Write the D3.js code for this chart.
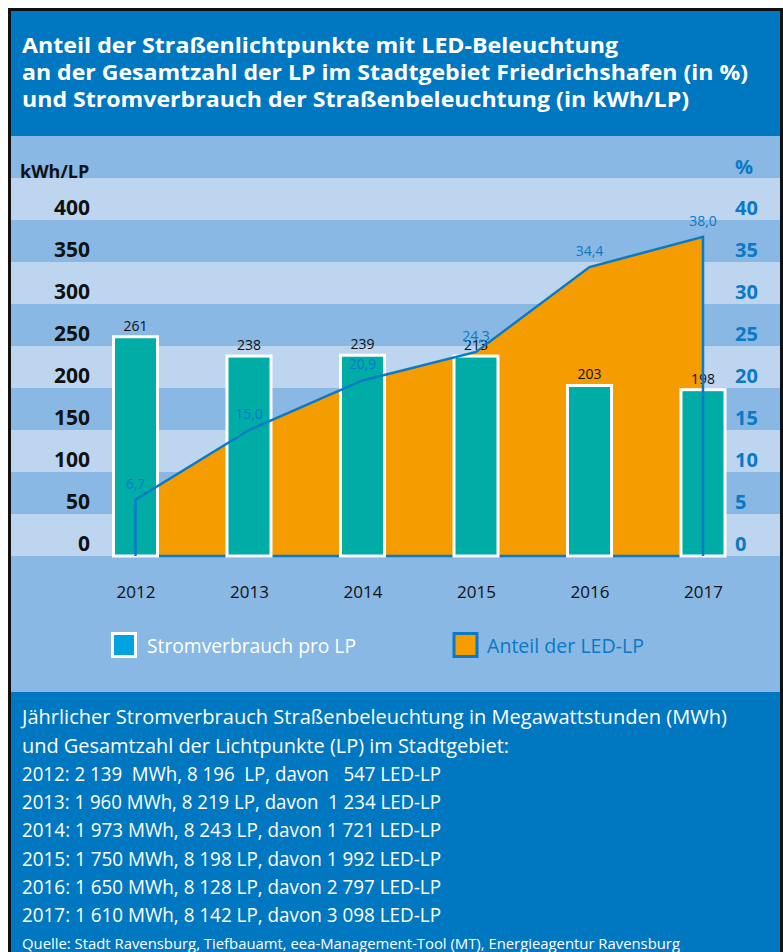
<!DOCTYPE html>
<html>
<head>
<meta charset="utf-8">
<script src="https://cdn.jsdelivr.net/npm/d3@7"></script>
<style>
  body { margin: 0; background: #fff; }
  svg { display: block; }
  text { font-family: "Open Sans", sans-serif; }
</style>
</head>
<body>
<svg id="chart" width="783" height="952"></svg>
<script>
// data
var years = ["2012", "2013", "2014", "2015", "2016", "2017"];
// bar heights as drawn (the 2015 bar is drawn taller than its printed 213)
var kwhBars = [261, 238, 239, 238, 203, 198];
var kwhLabels = ["261", "238", "239", "213", "203", "198"];
var ledShare = [6.7, 15.0, 20.9, 24.3, 34.4, 38.0];
var kwhTicks = [0, 50, 100, 150, 200, 250, 300, 350, 400];
var pctTicks = [0, 5, 10, 15, 20, 25, 30, 35, 40];

var titleLines = [
    "Anteil der Straßenlichtpunkte mit LED-Beleuchtung",
    "an der Gesamtzahl der LP im Stadtgebiet Friedrichshafen (in %)",
    "und Stromverbrauch der Straßenbeleuchtung (in kWh/LP)"
];
var noteLines = [
    "Jährlicher Stromverbrauch Straßenbeleuchtung in Megawattstunden (MWh)",
    "und Gesamtzahl der Lichtpunkte (LP) im Stadtgebiet:"
];
var yearLines = [
    "2012: 2 139  MWh, 8 196  LP, davon   547 LED-LP",
    "2013: 1 960 MWh, 8 219 LP, davon  1 234 LED-LP",
    "2014: 1 973 MWh, 8 243 LP, davon 1 721 LED-LP",
    "2015: 1 750 MWh, 8 198 LP, davon 1 992 LED-LP",
    "2016: 1 650 MWh, 8 128 LP, davon 2 797 LED-LP",
    "2017: 1 610 MWh, 8 142 LP, davon 3 098 LED-LP"
];
var sourceText = "Quelle: Stadt Ravensburg, Tiefbauamt, eea-Management-Tool (MT), Energieagentur Ravensburg";
var legendLabels = ["Stromverbrauch pro LP", "Anteil der LED-LP"];

var darkBlue = "#0077c1",
    paleBlue = "#88b8e3",
    stripe = "#bed5ef",
    teal = "#00aca6",
    orange = "#f49c00",
    lineBlue = "#0a79c6";

var svg = d3.select("svg#chart");

// squeeze a text to a given width (the original font is a condensed one)
function fit(sel, w) {
    sel.attr("textLength", w).attr("lengthAdjust", "spacingAndGlyphs");
}

// frame + panels
svg.append("rect").attr("x", 8).attr("y", 8).attr("width", 775).attr("height", 950).attr("fill", "#111");
svg.append("rect").attr("x", 11).attr("y", 11).attr("width", 769).attr("height", 125).attr("fill", darkBlue);
svg.append("rect").attr("x", 11).attr("y", 136).attr("width", 769).attr("height", 556).attr("fill", paleBlue);
svg.append("rect").attr("x", 11).attr("y", 692).attr("width", 769).attr("height", 260).attr("fill", darkBlue);

// title
var titleW = [596, 726, 667];
svg.append("g").selectAll("text")
    .data(titleLines)
    .join("text")
    .attr("x", 22)
    .attr("y", (d, i) => 53 + i * 27)
    .attr("fill", "#fff")
    .attr("font-size", "21px")
    .attr("font-weight", 700)
    .text(d => d)
    .each(function(d, i) { fit(d3.select(this), titleW[i]); });

// scales
var base = 556;
var x = d3.scalePoint().domain(years).range([135.5, 703]);
var y = d3.scaleLinear().domain([0, 400]).range([base, 220]);
var yPct = d3.scaleLinear().domain([0, 40]).range([base, 220]);
var barW = 44;
var comma = d3.formatLocale({decimal: ",", thousands: " ", grouping: [3], currency: ["", " €"]}).format(".1f");

// light stripes every other 50 kWh
svg.append("g").selectAll("rect")
    .data(kwhTicks.filter(v => v % 100 === 0))
    .join("rect")
    .attr("x", 11)
    .attr("width", 769)
    .attr("y", d => y(d + 50))
    .attr("height", d => y(d) - y(d + 50))
    .attr("fill", stripe);

// axis titles
svg.append("text").attr("x", 20).attr("y", 178)
    .attr("font-size", "18px").attr("font-weight", 700).attr("fill", "#111")
    .text("kWh/LP");
svg.append("text").attr("x", 735).attr("y", 174)
    .attr("font-size", "20px").attr("font-weight", 700).attr("fill", lineBlue)
    .text("%");

// left axis
svg.append("g")
    .attr("transform", "translate(90,0)")
    .call(d3.axisLeft(y).tickValues(kwhTicks).tickSize(0).tickPadding(0))
    .call(g => g.select(".domain").remove())
    .selectAll("text")
    .attr("y", -12)
    .attr("font-family", "Open Sans")
    .attr("font-size", "21px")
    .attr("font-weight", 700)
    .attr("fill", "#111");

// right axis
svg.append("g")
    .attr("transform", "translate(735,0)")
    .call(d3.axisRight(yPct).tickValues(pctTicks).tickSize(0).tickPadding(0))
    .call(g => g.select(".domain").remove())
    .selectAll("text")
    .attr("y", -12)
    .attr("font-family", "Open Sans")
    .attr("font-size", "20px")
    .attr("font-weight", 700)
    .attr("fill", lineBlue);

// year labels
svg.append("g")
    .attr("transform", "translate(0,592)")
    .call(d3.axisBottom(x).tickSize(0).tickPadding(0))
    .call(g => g.select(".domain").remove())
    .selectAll("text")
    .attr("y", 0)
    .attr("dy", "0.35em")
    .attr("font-family", "Open Sans")
    .attr("font-size", "17px")
    .attr("fill", "#111");

// LED share area
var shareData = years.map((yr, i) => ({year: yr, v: ledShare[i]}));
var area = d3.area()
    .x(d => x(d.year))
    .y0(base)
    .y1(d => yPct(d.v));
svg.append("path")
    .datum(shareData)
    .attr("d", area)
    .attr("fill", orange);
svg.append("line")
    .attr("x1", x(years[0])).attr("x2", x(years[years.length - 1]))
    .attr("y1", base).attr("y2", base)
    .attr("stroke", lineBlue).attr("stroke-width", 2.5);

// consumption bars
var bars = svg.append("g").selectAll("g")
    .data(years.map((yr, i) => ({year: yr, v: kwhBars[i], label: kwhLabels[i]})))
    .join("g");
bars.append("rect")
    .attr("x", d => x(d.year) - barW / 2)
    .attr("y", d => y(d.v))
    .attr("width", barW)
    .attr("height", d => base - y(d.v))
    .attr("fill", teal)
    .attr("stroke", "#fff")
    .attr("stroke-width", 3);
bars.append("text")
    .attr("x", d => x(d.year))
    .attr("y", d => y(d.v) - 6)
    .attr("text-anchor", "middle")
    .attr("font-size", "14px")
    .attr("fill", "#111")
    .text(d => d.label);

// LED share line (closed down to the base at both ends)
var outline = [{year: years[0], v: 0}].concat(shareData, [{year: years[years.length - 1], v: 0}]);
var line = d3.line()
    .x(d => x(d.year))
    .y(d => yPct(d.v));
svg.append("path")
    .datum(outline)
    .attr("d", line)
    .attr("fill", "none")
    .attr("stroke", lineBlue)
    .attr("stroke-width", 2.5)
    .attr("stroke-linejoin", "miter");

svg.append("g").selectAll("text")
    .data(shareData)
    .join("text")
    .attr("x", d => x(d.year))
    .attr("y", d => yPct(d.v) - 11)
    .attr("text-anchor", "middle")
    .attr("font-size", "14px")
    .attr("fill", lineBlue)
    .text(d => comma(d.v));

// legend
var legend = svg.append("g");
legend.append("rect").attr("x", 112.5).attr("y", 633.5).attr("width", 23).attr("height", 23)
    .attr("fill", "#00a3df").attr("stroke", "#fff").attr("stroke-width", 3);
legend.append("text").attr("x", 147).attr("y", 653)
    .attr("font-size", "20px").attr("fill", "#fff")
    .text(legendLabels[0]).call(fit, 209);
legend.append("rect").attr("x", 454).attr("y", 633.5).attr("width", 23).attr("height", 23)
    .attr("fill", orange).attr("stroke", lineBlue).attr("stroke-width", 3);
legend.append("text").attr("x", 487).attr("y", 653)
    .attr("font-size", "20px").attr("fill", lineBlue)
    .text(legendLabels[1]).call(fit, 157);

// notes below
var noteW = [705, 487];
svg.append("g").selectAll("text")
    .data(noteLines)
    .join("text")
    .attr("x", 22)
    .attr("y", (d, i) => 724 + i * 28.5)
    .attr("font-size", "20px")
    .attr("fill", "#fff")
    .text(d => d)
    .each(function(d, i) { fit(d3.select(this), noteW[i]); });

svg.append("g").selectAll("text")
    .data(yearLines)
    .join("text")
    .attr("x", 22)
    .attr("y", (d, i) => 781 + i * 28.2)
    .attr("font-size", "20px")
    .attr("fill", "#fff")
    .style("white-space", "pre")
    .text(d => d)
    .call(fit, 419);

svg.append("text").attr("x", 22).attr("y", 949)
    .attr("font-size", "15px").attr("fill", "#fff")
    .text(sourceText).call(fit, 658);
</script>
</body>
</html>
